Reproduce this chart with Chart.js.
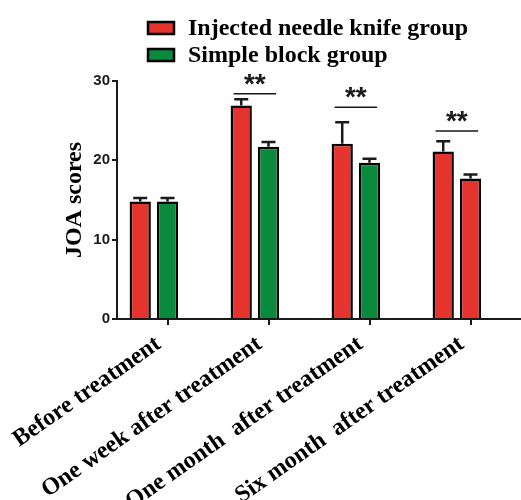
<!DOCTYPE html>
<html>
<head>
<meta charset="utf-8">
<script src="https://cdn.jsdelivr.net/npm/chart.js@4/dist/chart.umd.min.js"></script>
<style>
  html, body { margin: 0; padding: 0; background: #fff; }
  canvas { display: block; }
</style>
</head>
<body>
<canvas id="chart" width="521" height="500"></canvas>
<script>
// data
const categories = ["Before treatment", "One week after treatment", "One month  after treatment", "Six month  after treatment"];
const injected = [14.8, 26.9, 22.1, 21.1];
const injectedErr = [0.45, 0.8, 2.7, 1.3];
const simple = [14.8, 21.7, 19.7, 17.7];
const simpleErr = [0.45, 0.6, 0.5, 0.5];
const sigLevels = [null, 28.4, 26.7, 23.7];
const yTicks = [0, 10, 20, 30];

const RED = "#e5332e";
const GREEN = "#0a8a3c";
const INK = "#1a1a1a";
const SERIF = '"Liberation Serif", "Times New Roman", serif';
const SANS = '"Liberation Sans", Arial, sans-serif';

// the last simple-block bar is drawn red in the original figure
const simpleColors = simple.map((v, i) => (i === 3 ? RED : GREEN));

const errorBars = {
    id: "errorBars",
    afterDatasetsDraw(chart) {
        const ctx = chart.ctx;
        const y = chart.scales.y;
        const errs = [injectedErr, simpleErr];
        ctx.save();
        ctx.strokeStyle = INK;
        ctx.lineWidth = 2.5;
        [0, 1].forEach(d => {
            const meta = chart.getDatasetMeta(d);
            const vals = chart.data.datasets[d].data;
            meta.data.forEach((bar, i) => {
                const top = y.getPixelForValue(vals[i] + errs[d][i]);
                ctx.beginPath();
                ctx.moveTo(bar.x, bar.y);
                ctx.lineTo(bar.x, top);
                ctx.moveTo(bar.x - 7, top);
                ctx.lineTo(bar.x + 7, top);
                ctx.stroke();
            });
        });
        ctx.restore();
    }
};

const significance = {
    id: "significance",
    afterDatasetsDraw(chart) {
        const ctx = chart.ctx;
        const y = chart.scales.y;
        const a = chart.getDatasetMeta(0).data;
        const b = chart.getDatasetMeta(1).data;
        ctx.save();
        ctx.strokeStyle = INK;
        ctx.fillStyle = INK;
        ctx.lineWidth = 1.5;
        ctx.font = "bold 28px " + SANS;
        ctx.textAlign = "center";
        ctx.textBaseline = "alphabetic";
        sigLevels.forEach((lvl, i) => {
            if (lvl === null) return;
            const py = y.getPixelForValue(lvl);
            const x1 = a[i].x - a[i].width / 2 + 3;
            const x2 = b[i].x + b[i].width / 2 - 3;
            ctx.beginPath();
            ctx.moveTo(x1, py);
            ctx.lineTo(x2, py);
            ctx.stroke();
            ctx.fillText("**", (x1 + x2) / 2, py - 1);
        });
        ctx.restore();
    }
};

const legendBox = {
    id: "legendBox",
    afterDraw(chart) {
        const ctx = chart.ctx;
        const items = [[chart.data.datasets[0].label, RED], [chart.data.datasets[1].label, GREEN]];
        ctx.save();
        ctx.font = "bold 24px " + SERIF;
        ctx.textBaseline = "middle";
        items.forEach((it, k) => {
            const cy = 28 + k * 27;
            ctx.fillStyle = it[1];
            ctx.fillRect(148, cy - 6, 26, 12);
            ctx.strokeStyle = "#000";
            ctx.lineWidth = 2.5;
            ctx.strokeRect(148, cy - 6, 26, 12);
            ctx.fillStyle = "#000";
            ctx.fillText(it[0], 188, cy + 1);
        });
        ctx.restore();
    }
};

new Chart(document.getElementById("chart").getContext("2d"), {
    type: "bar",
    data: {
        labels: categories,
        datasets: [
            { label: "Injected needle knife group", data: injected, backgroundColor: RED, borderColor: "#000", borderWidth: 2.5 },
            { label: "Simple block group", data: simple, backgroundColor: simpleColors, borderColor: "#000", borderWidth: 2.5 },
            // empty slot so the green bar sits on the tick, as in the figure
            { label: "", data: categories.map(() => null) }
        ]
    },
    options: {
        responsive: false,
        animation: false,
        devicePixelRatio: 1,
        datasets: { bar: { categoryPercentage: 0.81, barPercentage: 0.78 } },
        layout: { padding: { top: 81, left: 60, right: 0, bottom: 0 } },
        plugins: { legend: { display: false }, tooltip: { enabled: false } },
        scales: {
            x: {
                grid: { display: true, offset: false, drawOnChartArea: false, drawTicks: true, tickLength: 6, color: INK, lineWidth: 2 },
                border: { display: true, color: INK, width: 2 },
                ticks: {
                    autoSkip: false, minRotation: 35, maxRotation: 35, padding: 5, labelOffset: -9,
                    color: "#000", font: { family: SERIF, size: 24, weight: "bold" }
                },
                afterFit(scale) { scale.height = 181; }
            },
            y: {
                min: 0, max: 30,
                afterBuildTicks(scale) { scale.ticks = yTicks.map(v => ({ value: v })); },
                grid: { display: true, drawOnChartArea: false, drawTicks: true, tickLength: 5, color: INK, lineWidth: 2 },
                border: { display: true, color: INK, width: 2 },
                ticks: { padding: 2, color: INK, font: { family: SANS, size: 15, weight: "bold" } },
                title: { display: true, text: "JOA scores", color: "#000", padding: 0, font: { family: SERIF, size: 24, weight: "bold" } },
                afterFit(scale) { scale.width = 57; }
            }
        }
    },
    plugins: [errorBars, significance, legendBox]
});
</script>
</body>
</html>
